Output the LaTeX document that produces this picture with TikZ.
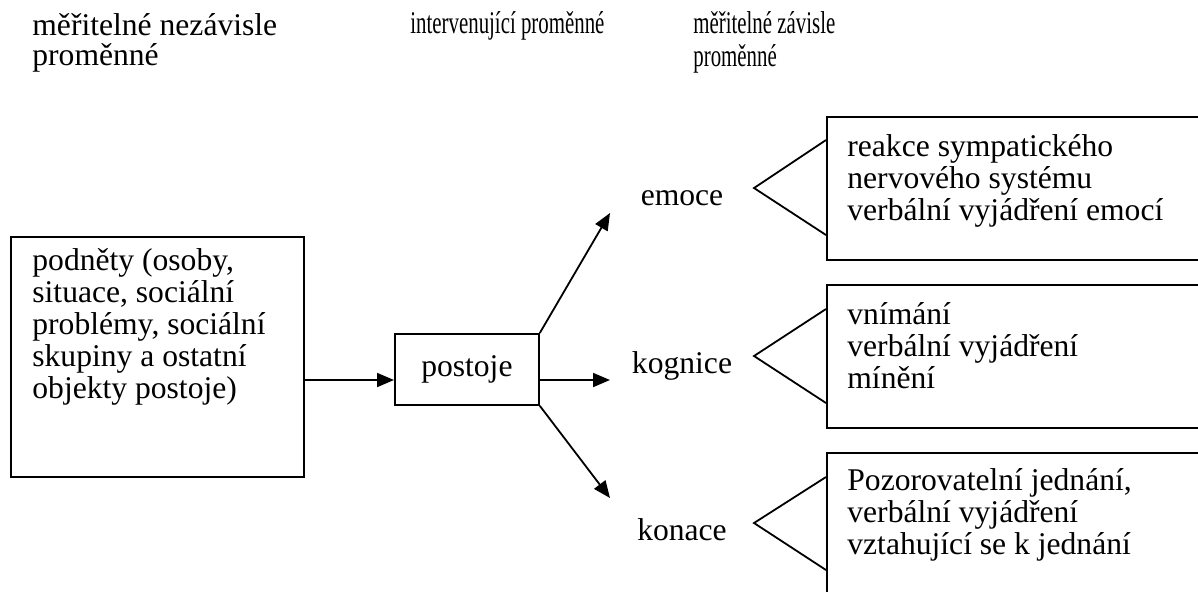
\documentclass[tikz,border=0pt]{standalone}
\usepackage{fontspec}
\usepackage{graphicx}
\setmainfont{Liberation Serif}
\newcommand\narrowtext[1]{\scalebox{0.66}[1]{#1}}
\usetikzlibrary{arrows.meta,positioning}
\tikzset{
  plain box/.style={draw,line width=0.9pt,inner sep=0pt,anchor=north west},
  body text/.style={inner sep=0pt,anchor=base west,align=left,font=\fontsize{15.8}{15.9}\selectfont},
  head text/.style={body text,font=\fontsize{15.8}{16.5}\selectfont},
  out label/.style={inner sep=0pt,anchor=base,font=\fontsize{15.8}{16}\selectfont},
  flow arrow/.style={-{Triangle[length=8.5pt,width=7pt]},line width=0.9pt},
  fork line/.style={line width=0.9pt,line join=miter},
}

\begin{document}
\begin{tikzpicture}[x=0.5pt,y=-0.5pt]
  \useasboundingbox (0,0) rectangle (1198,591);
  % column heads (base = last line)
  \node[body text,font=\fontsize{15.8}{15}\selectfont] (h1) at (32,65) {měřitelné nezávisle\\proměnné};
  \node[head text] (h2) at (410,33) {\narrowtext{intervenující proměnné}};
  \node[head text] (h3) at (693,66) {\narrowtext{měřitelné závisle}\\\narrowtext{proměnné}};
  % left part
  \node[plain box,minimum width=146.5pt,minimum height=120pt] (stim) at (10,236) {};
  \node[body text] (stimtxt) at (32,398) {podněty (osoby,\\situace, sociální\\problémy, sociální\\skupiny a ostatní\\objekty postoje)};
  \node[plain box,minimum width=72pt,minimum height=35.5pt,font=\fontsize{15.8}{16}\selectfont] (att) at (394,333) {postoje};
  \coordinate (mid) at (0,380);
  \draw[flow arrow] (stim.east |- mid) -- (att.west |- mid);
  % three components
  \node[out label] (emo) at (682,205) {emoce};
  \node[out label] (kog) at (682,373) {kognice};
  \node[out label] (kon) at (682,540) {konace};
  \coordinate (emo tip) at (610,213);
  \coordinate (kog tip) at (610,380);
  \coordinate (kon tip) at (610,498);
  \draw[flow arrow] (att.north east) -- (emo tip);
  \draw[flow arrow] (att.east |- mid) -- (kog tip);
  \draw[flow arrow] (att.south east) -- (kon tip);
  % measured reactions
  \node[plain box,minimum width=194.5pt,minimum height=71.5pt] (r1) at (826,116) {};
  \node[plain box,minimum width=194.5pt,minimum height=71.5pt] (r2) at (826,284) {};
  \node[plain box,minimum width=194.5pt,minimum height=79pt] (r3) at (826,452) {};
  \draw[fork line] (826,140) -- (754,188) -- (826,235);
  \draw[fork line] (826,309) -- (754,356) -- (826,403);
  \draw[fork line] (826,477) -- (754,523) -- (826,570);
  \node[body text] (r1txt) at (847,220) {reakce sympatického\\nervového systému\\verbální vyjádření emocí};
  \node[body text] (r2txt) at (847,388) {vnímání\\verbální vyjádření\\mínění};
  \node[body text] (r3txt) at (847,554) {Pozorovatelní jednání,\\verbální vyjádření\\vztahující se k jednání};
\end{tikzpicture}
\end{document}
